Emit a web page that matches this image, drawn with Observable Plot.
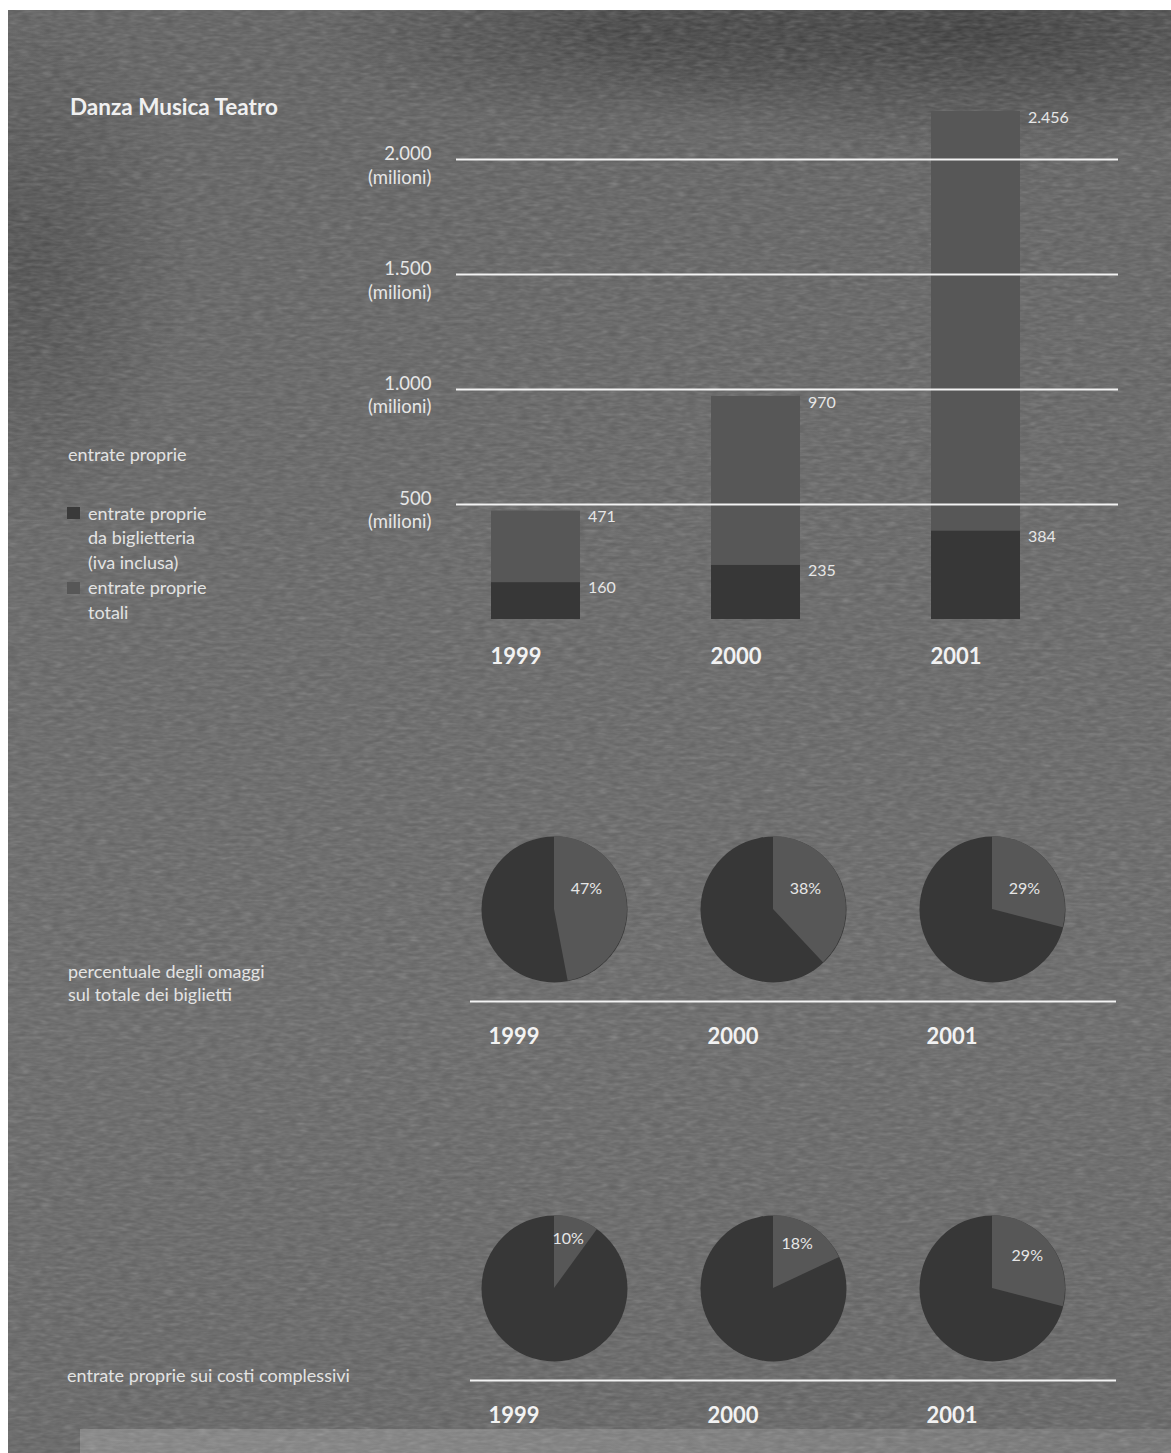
<!DOCTYPE html>
<html>
<head>
<meta charset="utf-8">
<script src="https://cdn.jsdelivr.net/npm/d3@7"></script>
<script src="https://cdn.jsdelivr.net/npm/@observablehq/plot@0.6"></script>
<style>
  body { margin: 0; background: #fff; }
  #page { position: relative; width: 1171px; height: 1453px; background: #fff; overflow: hidden;
          font-family: Lato, "Open Sans", sans-serif; }
  #bg { position: absolute; left: 8px; top: 10px; right: 0; bottom: 0;
        background:
          radial-gradient(ellipse 420px 120px at 960px 20px, rgba(0,0,0,0.40), rgba(0,0,0,0)),
          radial-gradient(ellipse 300px 100px at 600px 20px, rgba(0,0,0,0.28), rgba(0,0,0,0)),
          radial-gradient(ellipse 160px 260px at 20px 260px, rgba(0,0,0,0.22), rgba(0,0,0,0)),
          linear-gradient(180deg, #5c5c5c 0%, #626262 40%, #646464 70%, #606060 100%); }
  #band { position: absolute; left: 80px; top: 1429px; right: 0; bottom: 0;
          background: linear-gradient(90deg, #828282, #7a7a7a 60%, #707070); }
  #noise { position: absolute; left: 8px; top: 10px; }
  .t { position: absolute; color: #e3e3e3; font-size: 18px; white-space: nowrap; }
  .sq { position: absolute; width: 13px; height: 12px; }
  .chart { position: absolute; left: 0; }
</style>
</head>
<body>
<div id="page">
  <div id="bg"></div>
  <div id="band"></div>
  <svg id="noise" width="1163" height="1443">
    <filter id="n">
      <feTurbulence type="fractalNoise" baseFrequency="0.09 0.3" numOctaves="2" seed="4"/>
      <feColorMatrix type="saturate" values="0"/>
      <feComponentTransfer><feFuncA type="linear" slope="0.3"/></feComponentTransfer>
    </filter>
    <rect width="100%" height="100%" filter="url(#n)"/>
  </svg>

  <div class="t" style="left:70px;top:92px;font-size:22.5px;font-weight:bold;line-height:30px;color:#f0f0f0">Danza Musica Teatro</div>
  <div class="t" style="left:68px;top:442px;line-height:24px">entrate proprie</div>
  <div class="sq" style="left:67px;top:507px;background:#3a3a3a"></div>
  <div class="sq" style="left:67px;top:582px;background:#575757"></div>
  <div class="t" style="left:88px;top:500.5px;line-height:24.8px">entrate proprie<br>da biglietteria<br>(iva inclusa)<br>entrate proprie<br>totali</div>
  <div class="t" style="left:68px;top:960px;line-height:23px">percentuale degli omaggi<br>sul totale dei biglietti</div>
  <div class="t" style="left:67px;top:1363px;line-height:24px">entrate proprie sui costi complessivi</div>

  <div id="bars" class="chart" style="top:0"></div>
  <div id="pies" class="chart" style="top:780px"></div>
</div>
<script>
// ---- data ----
const years = ["1999", "2000", "2001"];
const entrateTotali = [471, 970, 2456];          // entrate proprie totali (milioni)
const entrateBiglietteria = [160, 235, 384];     // entrate proprie da biglietteria (milioni)
const yTicks = [500, 1000, 1500, 2000];
const yVisibleMax = 2209;                        // top of the drawn area (the 2001 bar is cut)
const omaggiPct = [47, 38, 29];                  // percentuale degli omaggi sul totale dei biglietti
const entrateCostiPct = [10, 18, 29];            // entrate proprie sui costi complessivi
const metrics = ["omaggi", "costi"];

// ---- styles ----
const FONT = 'Lato, "Open Sans", sans-serif';
const TEXT = "#e6e6e6";
const LINE = "#f2f2f2";
const LIGHT = "#575757";
const DARK = "#373737";
const R = 73;

const fmt = d3.formatLocale({decimal: ",", thousands: ".", grouping: [3], currency: ["", ""]}).format(",d");

const bars = years.map((year, i) => ({year, totale: entrateTotali[i], biglietteria: entrateBiglietteria[i]}));

const barPlot = Plot.plot({
  width: 1171, height: 680,
  marginLeft: 456, marginRight: 53, marginTop: 111, marginBottom: 61,
  style: {background: "transparent", fontFamily: FONT, overflow: "visible"},
  x: {type: "band", domain: years, range: [490, 1021], paddingInner: 0.597, paddingOuter: 0, axis: null},
  y: {domain: [0, yVisibleMax], label: null},
  marks: [
    Plot.barY(bars, {x: "year", y: "totale", fill: LIGHT, clip: true}),
    Plot.barY(bars, {x: "year", y: "biglietteria", fill: DARK}),
    Plot.ruleY(yTicks, {stroke: LINE, strokeWidth: 2}),
    Plot.axisY(yTicks, {label: null, tickSize: 0, tickPadding: 25, fontSize: 18.5, lineHeight: 1.25, dy: 5,
      fill: TEXT, tickFormat: d => fmt(d) + "\n(milioni)"}),
    Plot.text(bars, {x: "year", y: d => Math.min(d.totale, yVisibleMax), text: d => fmt(d.totale),
      dx: 52, dy: 6, textAnchor: "start", fontSize: 16, fill: TEXT}),
    Plot.text(bars, {x: "year", y: "biglietteria", text: d => fmt(d.biglietteria),
      dx: 52, dy: 5.5, textAnchor: "start", fontSize: 16, fill: TEXT}),
    Plot.text(bars, {x: "year", frameAnchor: "bottom", text: "year", dx: -45.5, dy: 44,
      textAnchor: "start", fontSize: 22, fontWeight: "bold", fill: "#f2f2f2"})
  ]
});
document.getElementById("bars").appendChild(barPlot);

// ---- pies ----
const pies = [
  ...years.map((year, i) => ({year, metric: "omaggi", pct: omaggiPct[i]})),
  ...years.map((year, i) => ({year, metric: "costi", pct: entrateCostiPct[i]}))
];

function pieSlices(data) {
  return (index, scales) => {
    const g = d3.create("svg:g");
    const arc = d3.arc().innerRadius(0).outerRadius(R);
    for (const d of data) {
      g.append("path")
        .attr("transform", `translate(${scales.x(d.year)},${scales.y(d.metric)})`)
        .attr("d", arc({startAngle: 0, endAngle: 2 * Math.PI * d.pct / 100}))
        .attr("fill", LIGHT);
    }
    return g.node();
  };
}

const row2Labels = pies.filter(d => d.metric === "costi").map(d => {
  const a = Math.PI * d.pct / 100;
  return Plot.text([d], {x: "year", y: "metric", text: v => v.pct + "%",
    dx: 44 * Math.sin(a), dy: -50 * Math.cos(a) - 2, fontSize: 16, fill: TEXT});
});

const piePlot = Plot.plot({
  width: 1171, height: 673,
  marginLeft: 470, marginRight: 55, marginTop: 0, marginBottom: 0,
  style: {background: "transparent", fontFamily: FONT, overflow: "visible"},
  x: {type: "point", domain: years, range: [553.5, 992], padding: 0, axis: null},
  y: {type: "point", domain: metrics, range: [128.5, 508], padding: 0, axis: null},
  marks: [
    Plot.dot(pies, {x: "year", y: "metric", r: R, fill: DARK, stroke: null}),
    pieSlices(pies),
    Plot.text(pies.filter(d => d.metric === "omaggi"), {x: "year", y: "metric", text: d => d.pct + "%",
      dx: 32, dy: -21, fontSize: 16, fill: TEXT}),
    ...row2Labels,
    Plot.ruleY(metrics, {y: d => d, dy: 92, stroke: LINE, strokeWidth: 2}),
    Plot.text(pies, {x: "year", y: "metric", text: "year", dx: -66, dy: 127.5, textAnchor: "start",
      fontSize: 22, fontWeight: "bold", fill: "#f2f2f2"})
  ]
});
document.getElementById("pies").appendChild(piePlot);
</script>
</body>
</html>
